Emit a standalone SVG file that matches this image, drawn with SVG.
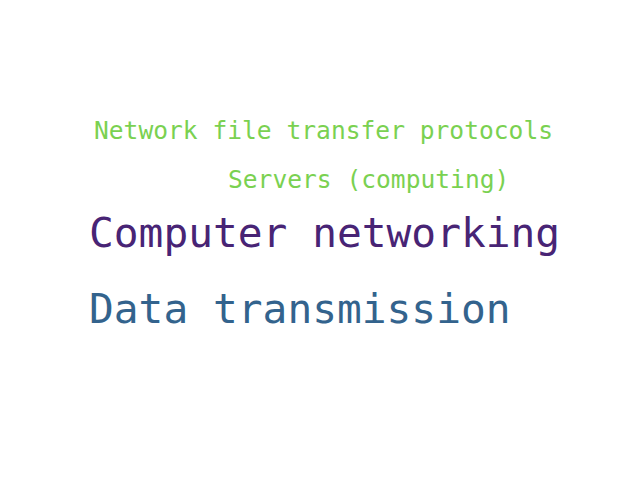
<svg xmlns="http://www.w3.org/2000/svg" width="640" height="480" viewBox="0 0 640 480">
<style>
text{font-family:"DejaVu Sans Mono","Liberation Mono",monospace}
.s{font-size:24.6px;fill:#7ad151}
.l{font-size:41.2px}
</style>
<rect width="640" height="480" fill="#ffffff"/>
<g id="w1"><text class="s" x="94" y="139">Network file transfer protocols</text></g>
<g id="w2"><text class="s" x="228" y="188">Servers (computing)</text></g>
<g id="w3"><text class="l" x="89" y="247" fill="#482475">Computer networking</text></g>
<g id="w4"><text class="l" x="89" y="323" fill="#33638d">Data transmission</text></g>
</svg>
